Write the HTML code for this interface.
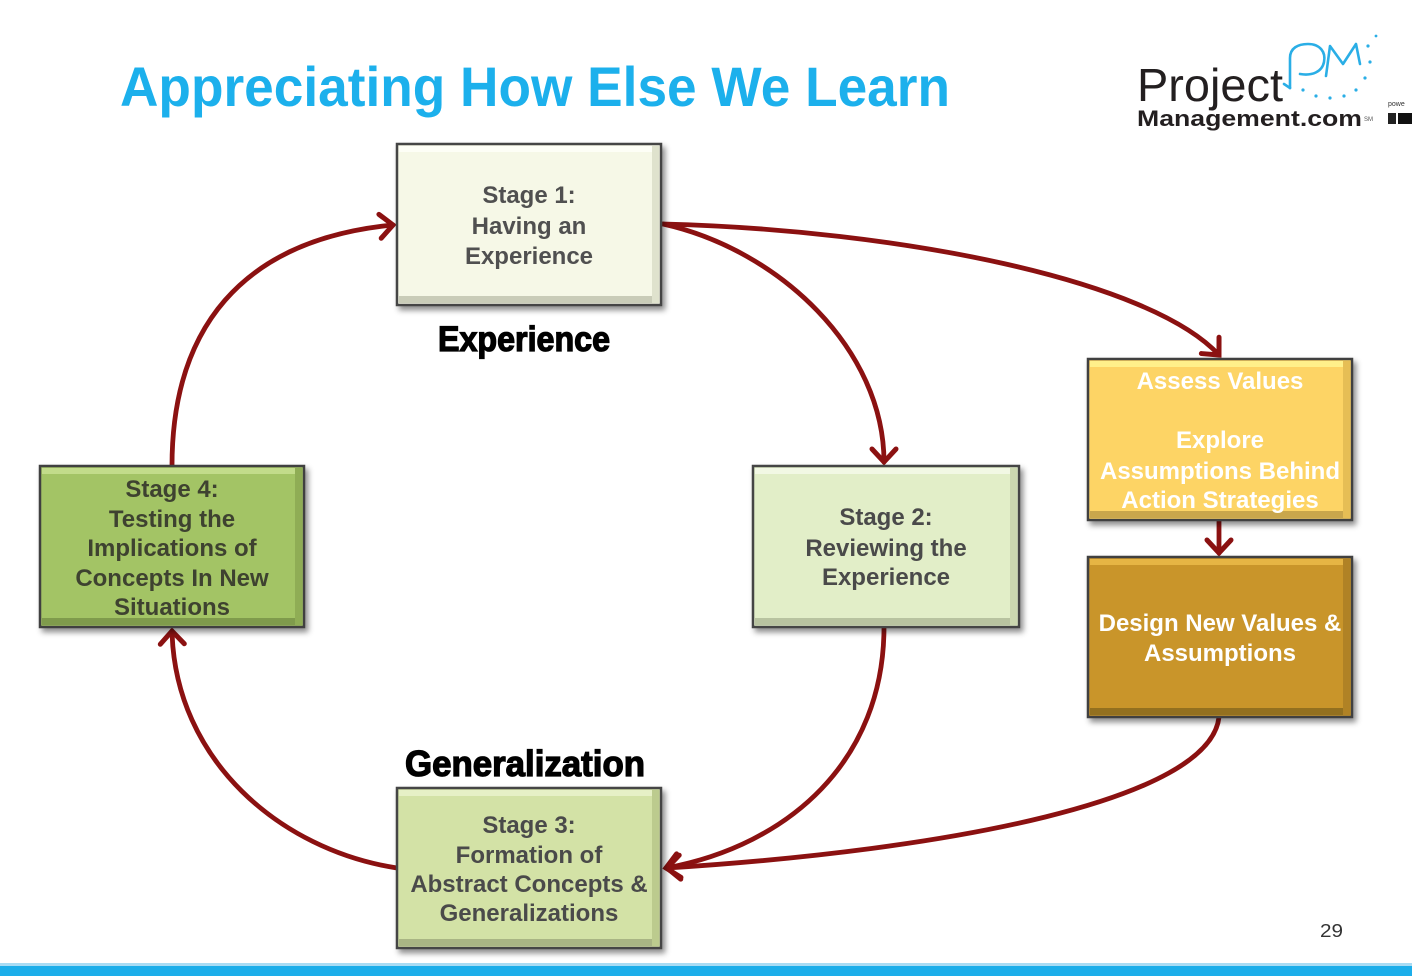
<!DOCTYPE html>
<html>
<head>
<meta charset="utf-8">
<style>
  html,body{margin:0;padding:0;background:#fff;}
  svg{display:block;}
  .bx{font-family:"Liberation Sans",sans-serif;font-weight:bold;font-size:24px;text-anchor:middle;}
</style>
</head>
<body>
<svg width="1412" height="976" viewBox="0 0 1412 976" xmlns="http://www.w3.org/2000/svg">
  <defs>
    <filter id="sh" x="-10%" y="-10%" width="130%" height="130%">
      <feDropShadow dx="3" dy="4" stdDeviation="3" flood-color="#000" flood-opacity="0.45"/>
    </filter>
    <marker id="ah" markerUnits="userSpaceOnUse" markerWidth="40" markerHeight="40" refX="0" refY="0" viewBox="-20 -20 40 40" orient="auto" overflow="visible">
      <path d="M-13,-12 L0,0 L-13,12" fill="none" stroke="#8b1111" stroke-width="5" stroke-linecap="round" stroke-linejoin="miter"/>
    </marker>
  </defs>

  <!-- Title -->
  <text x="120" y="106" font-family="Liberation Sans, sans-serif" font-weight="bold" font-size="56" fill="#1cb0ec" textLength="830" lengthAdjust="spacingAndGlyphs">Appreciating How Else We Learn</text>

  <!-- Logo -->
  <text x="1137" y="101" font-family="Liberation Sans, sans-serif" font-size="46" fill="#231f20" textLength="146" lengthAdjust="spacingAndGlyphs">Project</text>
  <text x="1137" y="126" font-family="Liberation Sans, sans-serif" font-weight="bold" font-size="22" fill="#231f20" textLength="225" lengthAdjust="spacingAndGlyphs">Management.com</text>
  <text x="1364" y="121" font-family="Liberation Sans, sans-serif" font-size="6" fill="#555">SM</text>
  <text x="1388" y="106" font-family="Liberation Sans, sans-serif" font-size="7" fill="#333">powe</text>
  <rect x="1388" y="113" width="8" height="11" fill="#222"/>
  <rect x="1398" y="113" width="14" height="11" fill="#111"/>
  <!-- PM mark -->
  <g fill="none" stroke="#2aaee6" stroke-width="2.6" stroke-linecap="round" stroke-linejoin="round">
    <path d="M1290,88 L1290,58 C1290,48 1298,44 1308,44 C1320,44 1326,52 1324,62 C1322,72 1312,76 1300,74"/>
    <path d="M1290,88 L1284,84"/>
    <path d="M1326,76 L1330,46 L1343,64 L1356,44 L1360,64"/>
  </g>
  <g fill="#2aaee6">
    <circle cx="1303" cy="90" r="1.6"/><circle cx="1316" cy="96" r="1.6"/><circle cx="1330" cy="98" r="1.6"/>
    <circle cx="1344" cy="96" r="1.6"/><circle cx="1356" cy="90" r="1.6"/><circle cx="1365" cy="78" r="1.6"/>
    <circle cx="1370" cy="62" r="1.6"/><circle cx="1368" cy="46" r="1.6"/><circle cx="1376" cy="36" r="1.4"/>
  </g>

  <!-- Connectors -->
  <g fill="none" stroke="#8b1111" stroke-width="4.8" stroke-linecap="round">
    <path d="M172,466 C172,330 240,240 393,225" marker-end="url(#ah)"/>
    <path d="M663,224 C780,250 884,350 884,462" marker-end="url(#ah)"/>
    <path d="M663,224 C900,230 1150,280 1219,355" marker-end="url(#ah)"/>
    <path d="M1219,520 L1219,553" marker-end="url(#ah)"/>
    <path d="M884,627 C884,760 790,845 666,868" marker-end="url(#ah)"/>
    <path d="M1219,717 C1210,800 950,850 667,868" marker-end="url(#ah)"/>
    <path d="M397,868 C280,850 175,760 172,631" marker-end="url(#ah)"/>
  </g>

  <!-- Boxes -->
  <!-- Stage 1 -->
  <g filter="url(#sh)">
    <rect x="397" y="144" width="264" height="161" fill="#f6f8e7" stroke="#454545" stroke-width="2.5"/>
  </g>
  <rect x="399" y="146" width="260" height="6" fill="#fdfef6"/>
  <rect x="399" y="296" width="260" height="7" fill="#c9ccb8"/>
  <rect x="652" y="146" width="7" height="157" fill="#dfe2cd"/>
  <!-- Stage 2 -->
  <g filter="url(#sh)">
    <rect x="753" y="466" width="266" height="161" fill="#e2eec8" stroke="#454545" stroke-width="2.5"/>
  </g>
  <rect x="755" y="468" width="262" height="6" fill="#f2f8e4"/>
  <rect x="755" y="618" width="262" height="7" fill="#b8c3a0"/>
  <rect x="1010" y="468" width="7" height="157" fill="#ccd8b0"/>
  <!-- Stage 3 -->
  <g filter="url(#sh)">
    <rect x="397" y="788" width="264" height="160" fill="#d3e2a6" stroke="#454545" stroke-width="2.5"/>
  </g>
  <rect x="399" y="790" width="260" height="6" fill="#e6f0c6"/>
  <rect x="399" y="939" width="260" height="7" fill="#a9b584"/>
  <rect x="652" y="790" width="7" height="156" fill="#bccb8e"/>
  <!-- Stage 4 -->
  <g filter="url(#sh)">
    <rect x="40" y="466" width="264" height="161" fill="#a3c465" stroke="#3f3f3f" stroke-width="2.5"/>
  </g>
  <rect x="42" y="468" width="260" height="6" fill="#c2dc8a"/>
  <rect x="42" y="618" width="260" height="7" fill="#7f9b4c"/>
  <rect x="295" y="468" width="7" height="157" fill="#8fad55"/>
  <!-- Assess -->
  <g filter="url(#sh)">
    <rect x="1088" y="359" width="264" height="161" fill="#fdd465" stroke="#3f3f3f" stroke-width="2.5"/>
  </g>
  <rect x="1090" y="361" width="260" height="6" fill="#fff08a"/>
  <rect x="1090" y="511" width="260" height="7" fill="#c9a64c"/>
  <rect x="1343" y="361" width="7" height="157" fill="#e6be55"/>
  <!-- Design -->
  <g filter="url(#sh)">
    <rect x="1088" y="557" width="264" height="160" fill="#c9952a" stroke="#3f3f3f" stroke-width="2.5"/>
  </g>
  <rect x="1090" y="559" width="260" height="6" fill="#e6b544"/>
  <rect x="1090" y="708" width="260" height="7" fill="#93701f"/>
  <rect x="1343" y="559" width="7" height="156" fill="#b08225"/>

  <!-- Box text -->
  <g class="bx" fill="#4a4a4a">
    <text x="529" y="203" fill="#505050">Stage 1:</text>
    <text x="529" y="234" fill="#505050">Having an</text>
    <text x="529" y="264" fill="#505050">Experience</text>

    <text x="886" y="525">Stage 2:</text>
    <text x="886" y="556">Reviewing the</text>
    <text x="886" y="585">Experience</text>

    <text x="529" y="833">Stage 3:</text>
    <text x="529" y="863">Formation of</text>
    <text x="529" y="892">Abstract Concepts &amp;</text>
    <text x="529" y="921">Generalizations</text>

    <text x="172" y="497" fill="#3e4230">Stage 4:</text>
    <text x="172" y="527" fill="#3e4230">Testing the</text>
    <text x="172" y="556" fill="#3e4230">Implications of</text>
    <text x="172" y="586" fill="#3e4230">Concepts In New</text>
    <text x="172" y="615" fill="#3e4230">Situations</text>
  </g>
  <g class="bx" fill="#ffffff">
    <text x="1220" y="389">Assess Values</text>
    <text x="1220" y="448">Explore</text>
    <text x="1220" y="479">Assumptions Behind</text>
    <text x="1220" y="508">Action Strategies</text>

    <text x="1220" y="631">Design New Values &amp;</text>
    <text x="1220" y="661">Assumptions</text>
  </g>

  <!-- Labels -->
  <text x="438" y="351" font-family="Liberation Sans Narrow, Liberation Sans, sans-serif" font-weight="bold" font-size="35" fill="#000" stroke="#000" stroke-width="1.3" textLength="172" lengthAdjust="spacingAndGlyphs">Experience</text>
  <text x="405" y="776" font-family="Liberation Sans Narrow, Liberation Sans, sans-serif" font-weight="bold" font-size="36" fill="#000" stroke="#000" stroke-width="1.3" textLength="240" lengthAdjust="spacingAndGlyphs">Generalization</text>

  <!-- Page number -->
  <text x="1320" y="937" font-family="Liberation Sans Narrow, Liberation Sans, sans-serif" font-size="18" fill="#333" textLength="23" lengthAdjust="spacingAndGlyphs">29</text>

  <!-- Bottom bar -->
  <rect x="0" y="963" width="1412" height="3" fill="#a9dcf4"/>
  <rect x="0" y="966" width="1412" height="10" fill="#1caeea"/>
</svg>
</body>
</html>
